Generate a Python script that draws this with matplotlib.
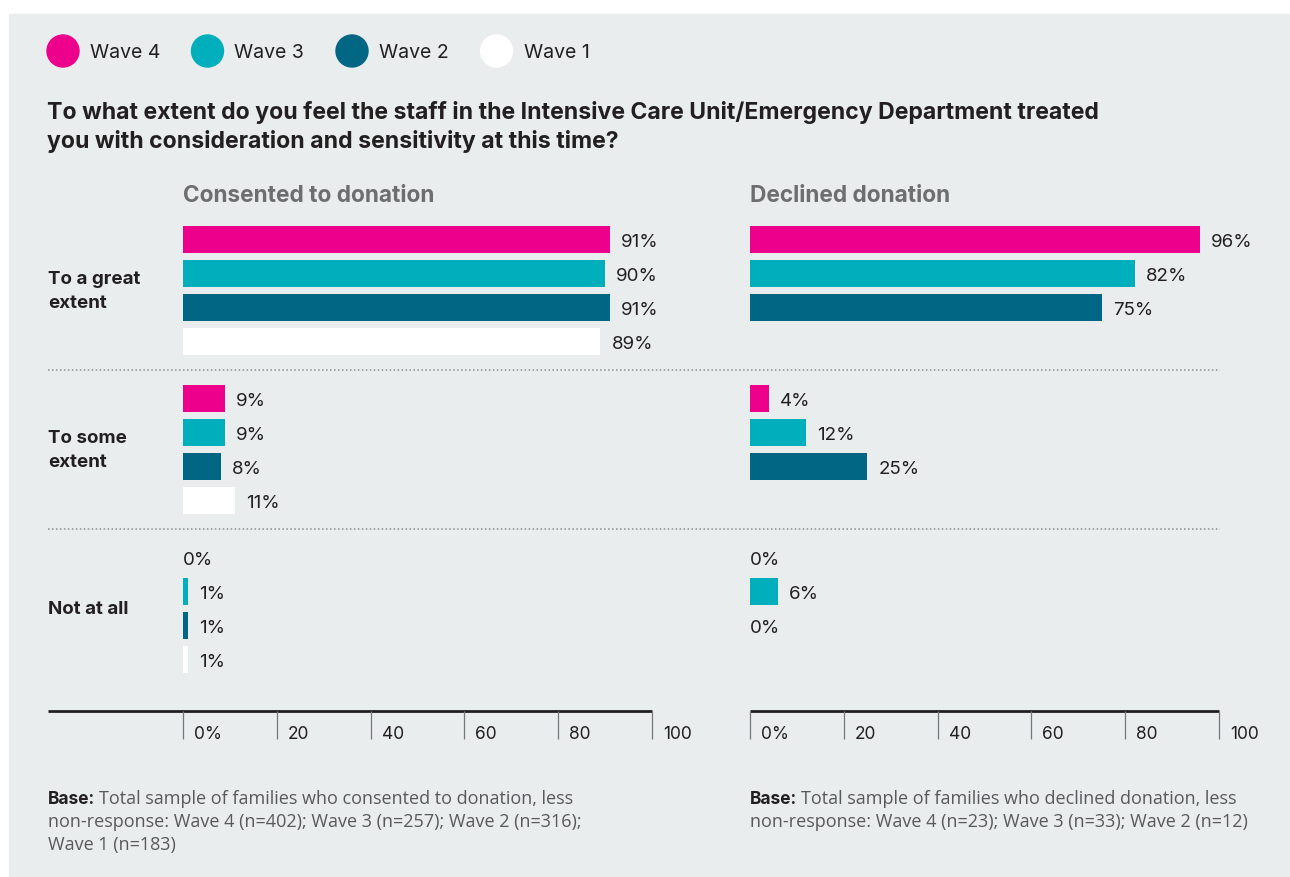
import matplotlib
matplotlib.use("Agg")
import matplotlib.pyplot as plt
from matplotlib.patches import Circle, Rectangle


# Answers to the ICU/ED consideration question, one list per wave
answers = ["To a great\nextent", "To some\nextent", "Not at all"]
waves = ["Wave 4", "Wave 3", "Wave 2", "Wave 1"]
wave_colors = ["#ec008c", "#00afbb", "#006684", "#ffffff"]

consented_w4 = [91, 9, 0]
consented_w3 = [90, 9, 1]
consented_w2 = [91, 8, 1]
consented_w1 = [89, 11, 1]

declined_w4 = [96, 4, 0]
declined_w3 = [82, 12, 6]
declined_w2 = [75, 25, 0]

x_ticks = [0, 20, 40, 60, 80, 100]
x_tick_labels = ["0%", "20", "40", "60", "80", "100"]

title_lines = ["To what extent do you feel the staff in the Intensive Care Unit/Emergency Department treated",
               "you with consideration and sensitivity at this time?"]
panel_titles = ["Consented to donation", "Declined donation"]
base_notes = [
    ["Total sample of families who consented to donation, less",
     "non-response: Wave 4 (n=402); Wave 3 (n=257); Wave 2 (n=316);",
     "Wave 1 (n=183)"],
    ["Total sample of families who declined donation, less",
     "non-response: Wave 4 (n=23); Wave 3 (n=33); Wave 2 (n=12)"],
]

# layout, in output pixels (origin top left)
W, H = 1290, 878
BG = "#e9edee"
DARK = "#231f20"
GREY = "#6d6e70"
NOTE_GREY = "#58595b"
HEAD_FONT = ["Inter", "DejaVu Sans"]
BODY_FONT = ["Open Sans", "DejaVu Sans"]

FIRST_BAR = 240.5
BAR_STEP = 34
GROUP_STEP = 159
BAR_H = 27
AX_TOP, AX_BOTTOM = 222, 712
PANELS_X = [(183, 652), (750, 1219)]
LEFT = 48


def main():
    fig = plt.figure(figsize=(W / 100, H / 100), dpi=100, facecolor="white")

    # full-size canvas in pixel units for the non-data elements
    canvas = fig.add_axes([0, 0, 1, 1])
    canvas.set_xlim(0, W)
    canvas.set_ylim(H, 0)
    canvas.axis("off")
    canvas.add_patch(Rectangle((9, 15), W - 9, H - 15, color=BG, zorder=0))

    # legend
    for k, (name, color) in enumerate(zip(waves, wave_colors)):
        cx = 63 + k * 144.5
        canvas.add_patch(Circle((cx, 52), 16, color=color, zorder=2))
        canvas.text(cx + 27, 53, name, family=HEAD_FONT, fontsize=14,
                    color=DARK, va="center", ha="left")

    for k, line in enumerate(title_lines):
        canvas.text(47, 119 + k * 29, line, family=HEAD_FONT, fontsize=16.6, fontweight="bold",
                    color=DARK, va="baseline", ha="left")

    for g, label in enumerate(answers):
        yc = FIRST_BAR + g * GROUP_STEP + 1.5 * BAR_STEP
        canvas.text(LEFT, yc, label, family=HEAD_FONT, fontsize=13.5, fontweight="bold",
                    color=DARK, va="center", ha="left", linespacing=1.6)

    # dotted separators between answer groups
    for g in range(1, len(answers)):
        ys = FIRST_BAR + g * GROUP_STEP - (GROUP_STEP - 3 * BAR_STEP) / 2 - 0.5
        canvas.plot([LEFT, 1220], [ys, ys], color="#8a8c8e", lw=1.1,
                    linestyle=(0, (1, 1.6)), zorder=1)

    # x axis base lines
    canvas.plot([LEFT, PANELS_X[0][1]], [AX_BOTTOM, AX_BOTTOM], color=DARK, lw=2, zorder=3,
                solid_capstyle="butt")
    canvas.plot([PANELS_X[1][0], PANELS_X[1][1]], [AX_BOTTOM, AX_BOTTOM], color=DARK, lw=2,
                zorder=3, solid_capstyle="butt")

    panels = [
        [consented_w4, consented_w3, consented_w2, consented_w1],
        [declined_w4, declined_w3, declined_w2],
    ]

    for p, (series, (x0, x1)) in enumerate(zip(panels, PANELS_X)):
        ax = fig.add_axes([x0 / W, 1 - AX_BOTTOM / H, (x1 - x0) / W, (AX_BOTTOM - AX_TOP) / H])
        ax.patch.set_visible(False)
        ax.set_xlim(0, 100)
        ax.set_ylim(AX_BOTTOM, AX_TOP)
        for side in ["top", "right", "left", "bottom"]:
            ax.spines[side].set_visible(False)
        ax.set_yticks([])
        ax.set_xticks(x_ticks)
        ax.set_xticklabels([""] * len(x_ticks))
        ax.tick_params(axis="x", direction="out", length=20, width=0.9, color="#77787b")

        for j, values in enumerate(series):
            ys = [FIRST_BAR + g * GROUP_STEP + j * BAR_STEP for g in range(len(values))]
            ax.barh(ys, values, height=BAR_H, color=wave_colors[j], zorder=2)
            for v, y in zip(values, ys):
                ax.annotate(f"{v}%", xy=(v, y), xytext=(11 if v > 0 else 0, -2),
                            textcoords="offset pixels", family=HEAD_FONT, fontsize=13.5,
                            color=DARK, va="center", ha="left")

        for t, lab in zip(x_ticks, x_tick_labels):
            ax.annotate(lab, xy=(t, 0), xycoords=ax.get_xaxis_transform(),
                        xytext=(11, -23), textcoords="offset pixels", family=HEAD_FONT,
                        fontsize=12.5, color=DARK, va="center", ha="left")

        canvas.text(x0, 202, panel_titles[p], family=HEAD_FONT, fontsize=16.3,
                    fontweight="bold", color=GREY, va="baseline", ha="left")

    # base notes with a bold lead-in
    renderer = fig.canvas.get_renderer()
    for x0, lines in zip([LEFT, PANELS_X[1][0]], base_notes):
        lead = canvas.text(x0, 804, "Base:", family=HEAD_FONT, fontsize=12.5, fontweight="bold",
                           color=DARK, va="baseline", ha="left")
        bb = lead.get_window_extent(renderer)
        x_end = canvas.transData.inverted().transform((bb.x1, bb.y0))[0]
        canvas.text(x_end + 4, 804, lines[0], family=BODY_FONT, fontsize=13,
                    color=NOTE_GREY, va="baseline", ha="left")
        for k, line in enumerate(lines[1:], 1):
            canvas.text(x0, 804 + k * 23, line, family=BODY_FONT, fontsize=13,
                        color=NOTE_GREY, va="baseline", ha="left")

    fig.savefig("out.png", dpi=100, facecolor="white")


if __name__ == "__main__":
    main()
